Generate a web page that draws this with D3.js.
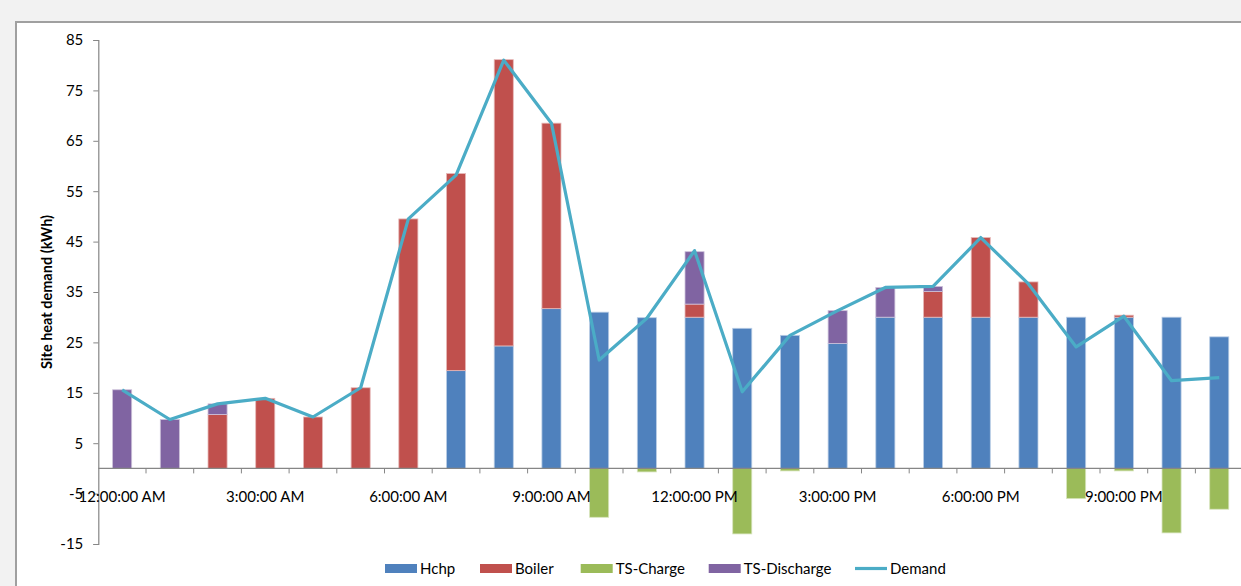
<!DOCTYPE html>
<html><head><meta charset="utf-8">
<script src="https://cdn.jsdelivr.net/npm/d3@7"></script>
<style>
html,body{margin:0;padding:0;background:#f2f2f2;overflow:hidden;}
svg{display:block;}
text{font-family:Lato,"Liberation Sans",sans-serif;fill:#000;}
</style></head>
<body>
<svg id="c" width="1241" height="586"></svg>
<script>
const hours = ["12:00:00 AM","1:00:00 AM","2:00:00 AM","3:00:00 AM","4:00:00 AM","5:00:00 AM",
  "6:00:00 AM","7:00:00 AM","8:00:00 AM","9:00:00 AM","10:00:00 AM","11:00:00 AM",
  "12:00:00 PM","1:00:00 PM","2:00:00 PM","3:00:00 PM","4:00:00 PM","5:00:00 PM",
  "6:00:00 PM","7:00:00 PM","8:00:00 PM","9:00:00 PM","10:00:00 PM","11:00:00 PM"];
const hchp        = [0,0,0,0,0,0,0,19.4,24.3,31.7,31.0,29.9,30.0,27.8,26.4,24.8,30.0,30.0,30.0,30.0,30.0,30.0,30.0,26.1];
const boiler      = [0,0,10.7,13.9,10.2,16.0,49.5,39.1,56.8,36.8,0,0,2.6,0,0,0,0,5.1,15.8,7.0,0,0.4,0,0];
const tsCharge    = [0,0,0,0,0,0,0,0,0,0,-9.7,-0.7,0,-13.0,-0.5,0,0,0,0,0,-6.0,-0.5,-12.8,-8.1];
const tsDischarge = [15.6,9.7,2.1,0,0,0,0,0,0,0,0,0,10.4,0,0,6.5,5.9,1.0,0,0,0,0,0,0];
const demand      = [15.6,9.7,12.8,13.9,10.2,16.0,49.5,58.2,81.0,68.5,21.5,29.8,43.2,15.2,26.4,31.3,35.9,36.1,45.8,36.6,24.1,30.2,17.4,18.0];
const yTicks = [-15,-5,5,15,25,35,45,55,65,75,85];
const xLabelIdx = [0,3,6,9,12,15,18,21];
const seriesNames = ["Hchp","Boiler","TS-Charge","TS-Discharge","Demand"];
const colors = {"Hchp":"#4f81bd","Boiler":"#c0504d","TS-Charge":"#9bbb59","TS-Discharge":"#8064a2","Demand":"#4bacc6"};
const edge = {"Hchp":"#b9cde5","Boiler":"#e6b9b8","TS-Charge":"#d7e4bd","TS-Discharge":"#ccc1da"};

const svg = d3.select("#c");
// chart frame
svg.append("rect").attr("x",16).attr("y",22).attr("width",1240).attr("height",580)
  .attr("fill","#fff").attr("stroke","#a0a0a0").attr("stroke-width",2);

const x0 = 98.3, bw = 47.7;
const x = d3.scaleBand().domain(hours).range([x0, x0 + bw*24]).paddingInner(0.6).paddingOuter(0.3);
const xb = d3.scaleBand().domain(hours).range([x0, x0 + bw*24]);
const y = d3.scaleLinear().domain([-15,85]).range([544,40]);

// stacked bars
const rows = hours.map((h,i)=>({h, "Hchp":hchp[i], "Boiler":boiler[i], "TS-Discharge":tsDischarge[i], "TS-Charge":tsCharge[i]}));
const stack = d3.stack().keys(["Hchp","Boiler","TS-Charge","TS-Discharge"]).offset(d3.stackOffsetDiverging);
const layers = stack(rows);
const g = svg.append("g");
layers.forEach(layer=>{
  g.append("g").selectAll("rect").data(layer.filter(d=>d[1]!==d[0])).join("rect")
    .attr("x", d=>x(d.data.h))
    .attr("width", x.bandwidth())
    .attr("y", d=>y(Math.max(d[0],d[1])))
    .attr("height", d=>Math.abs(y(d[0])-y(d[1])))
    .attr("fill", colors[layer.key])
    .attr("stroke", edge[layer.key]).attr("stroke-width",0.8);
});

// y axis
const yAxis = d3.axisLeft(y).tickValues(yTicks).tickSize(5).tickPadding(10).tickFormat(d=>String(d));
const ya = svg.append("g").attr("transform",`translate(${x0},0)`).call(yAxis);
ya.select(".domain").attr("stroke","#868686").attr("stroke-width",1.2);
ya.selectAll(".tick line").attr("stroke","#868686");
ya.selectAll("text").attr("font-size",15).attr("font-family","Lato, 'Liberation Sans', sans-serif").attr("fill","#000");

// x axis at zero
const xa = svg.append("g").attr("transform",`translate(0,${y(0)})`);
xa.append("line").attr("x1",x0).attr("x2",x0+bw*24).attr("stroke","#868686").attr("stroke-width",1.2);
xa.selectAll("line.t").data(d3.range(1,25)).join("line").attr("class","t")
  .attr("x1",i=>x0+i*bw).attr("x2",i=>x0+i*bw).attr("y1",0).attr("y2",5).attr("stroke","#868686");
xa.selectAll("text").data(xLabelIdx).join("text")
  .attr("x", i=>xb(hours[i])+xb.bandwidth()/2).attr("y", 34)
  .attr("text-anchor","middle").attr("font-size",15).text(i=>hours[i]);

// demand line
const line = d3.line().x((d,i)=>xb(hours[i])+xb.bandwidth()/2).y(d=>y(d));
svg.append("path").datum(demand).attr("d",line).attr("fill","none")
  .attr("stroke",colors["Demand"]).attr("stroke-width",3.2).attr("stroke-linejoin","round");

// y title
svg.append("text").attr("transform","translate(52,292) rotate(-90)").attr("text-anchor","middle")
  .attr("font-size",14.5).attr("font-weight","bold").text("Site heat demand (kWh)");

// legend
const legX = [385,480,580.7,708.7,855];
const lg = svg.append("g");
seriesNames.forEach((s,i)=>{
  if(s==="Demand"){
    lg.append("line").attr("x1",legX[i]).attr("x2",legX[i]+32).attr("y1",568.5).attr("y2",568.5)
      .attr("stroke",colors[s]).attr("stroke-width",3.2);
  } else {
    lg.append("rect").attr("x",legX[i]).attr("y",564).attr("width",32).attr("height",9).attr("fill",colors[s]);
  }
  lg.append("text").attr("x",legX[i]+35).attr("y",573.5).attr("font-size",15).text(s);
});
</script>
</body></html>
